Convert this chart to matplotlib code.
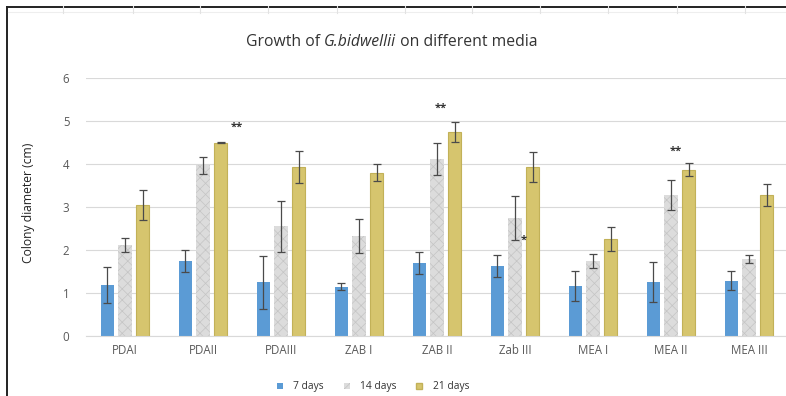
import matplotlib
matplotlib.use("Agg")
import matplotlib.pyplot as plt
import numpy as np
from matplotlib.lines import Line2D
from matplotlib.patches import Patch

plt.rcParams['font.family'] = ['Open Sans', 'DejaVu Sans']
plt.rcParams['hatch.linewidth'] = 0.5

media = ["PDAI", "PDAII", "PDAIII", "ZAB I", "ZAB II", "Zab III", "MEA I", "MEA II", "MEA III"]
days7 = [1.18, 1.75, 1.25, 1.15, 1.70, 1.63, 1.16, 1.26, 1.29]
days7_err = [0.42, 0.25, 0.62, 0.08, 0.26, 0.25, 0.35, 0.46, 0.22]
days14 = [2.12, 3.97, 2.55, 2.33, 4.12, 2.74, 1.74, 3.27, 1.79]
days14_err = [0.17, 0.20, 0.60, 0.40, 0.38, 0.51, 0.17, 0.35, 0.10]
days21 = [3.05, 4.50, 3.93, 3.80, 4.75, 3.93, 2.26, 3.87, 3.28]
days21_err = [0.35, 0.02, 0.38, 0.20, 0.23, 0.35, 0.28, 0.15, 0.25]

# significance marks: (category index, x shift in bar offsets, y value, text)
marks = [(1, 1.9, 4.85, "**"), (4, 0.2, 5.30, "**"), (7, 0.3, 4.30, "**"), (5, 0.5, 2.22, "*")]

W, H = 786, 396
fig = plt.figure(figsize=(W / 100, H / 100), dpi=100)
ax = fig.add_axes([86 / W, 60 / H, 702 / W, 258 / H])

x = np.arange(len(media))
bw = 0.175
off = 0.225
err_kw = dict(ecolor="#4a4a4a", elinewidth=0.9, capsize=2.8, capthick=0.9)

ax.bar(x - off, days7, bw, yerr=days7_err, color="#5B9BD5", linewidth=0,
       error_kw=err_kw, zorder=2, label="7 days")
ax.bar(x, days14, bw, yerr=days14_err, color="#DCDCDC", edgecolor="#C4C4C4",
       hatch="xxx", linewidth=0, error_kw=err_kw, zorder=2, label="14 days")
ax.bar(x + off, days21, bw, yerr=days21_err, color="#D6C56E", edgecolor="#C2B158",
       linewidth=0.8, error_kw=err_kw, zorder=2, label="21 days")

for i, dx, yv, t in marks:
    ax.text(i + dx * off, yv, t, ha="center", va="center", fontsize=8,
            color="#333333", fontweight="bold")

ax.set_xlim(-0.5, len(media) - 0.5)
ax.set_ylim(0, 6)
ax.set_yticks(range(0, 7))
ax.set_xticks(x)
ax.set_xticklabels(media)
ax.tick_params(axis="both", length=0, colors="#595959", labelsize=8.3)
ax.tick_params(axis="x", pad=6)
ax.tick_params(axis="y", pad=12)
ax.grid(axis="y", color="#D9D9D9", linewidth=0.8, zorder=0)
for s in ["top", "right", "left"]:
    ax.spines[s].set_visible(False)
ax.spines["bottom"].set_color("#D9D9D9")
ax.spines["bottom"].set_linewidth(0.8)

fig.text(29 / W, 1 - 203 / H, "Colony diameter (cm)", rotation=90,
         ha="center", va="center", fontsize=8.7, color="#222222")

# title built from pieces so the species name can be italic, centred as a group
title_parts = [("Growth of ", "normal"), ("G.bidwellii", "italic"), (" on different media", "normal")]
renderer = fig.canvas.get_renderer()
texts = []
for s, st in title_parts:
    t = fig.text(0, 1 - 42 / H, s, ha="left", va="center", fontsize=11.3,
                 color="#333333", style=st)
    texts.append(t)
widths = [t.get_window_extent(renderer).width for t in texts]
start = 392 - sum(widths) / 2
for t, w in zip(texts, widths):
    t.set_x(start / W)
    start += w

handles = [Patch(facecolor="#5B9BD5"),
           Patch(facecolor="#DCDCDC", edgecolor="#C4C4C4", hatch="xxx", linewidth=0),
           Patch(facecolor="#D6C56E", edgecolor="#C2B158")]
leg = fig.legend(handles, ["7 days", "14 days", "21 days"], loc="center",
                 bbox_to_anchor=(373 / W, 1 - 387 / H), ncol=3, frameon=False,
                 fontsize=7.4, handlelength=0.6, handleheight=0.6, columnspacing=1.9,
                 handletextpad=1.0)
for t in leg.get_texts():
    t.set_color("#333333")

# outer frame and sheet grid
fig.add_artist(Line2D([7 / W, 7 / W], [0, 1 - 7 / H], color="#222222", linewidth=1.4))
fig.add_artist(Line2D([7 / W, 1], [1 - 7 / H, 1 - 7 / H], color="#222222", linewidth=1.4))
fig.add_artist(Line2D([8 / W, 1], [1 - 12 / H, 1 - 12 / H], color="#EEEEEE", linewidth=0.8))
for cx in [63, 133, 200, 268, 337, 405, 472, 540, 608, 677, 745]:
    fig.add_artist(Line2D([cx / W, cx / W], [1 - 6 / H, 1 - 13 / H], color="#E2E2E2", linewidth=0.8))

fig.savefig("out.png", dpi=100, facecolor="white")
